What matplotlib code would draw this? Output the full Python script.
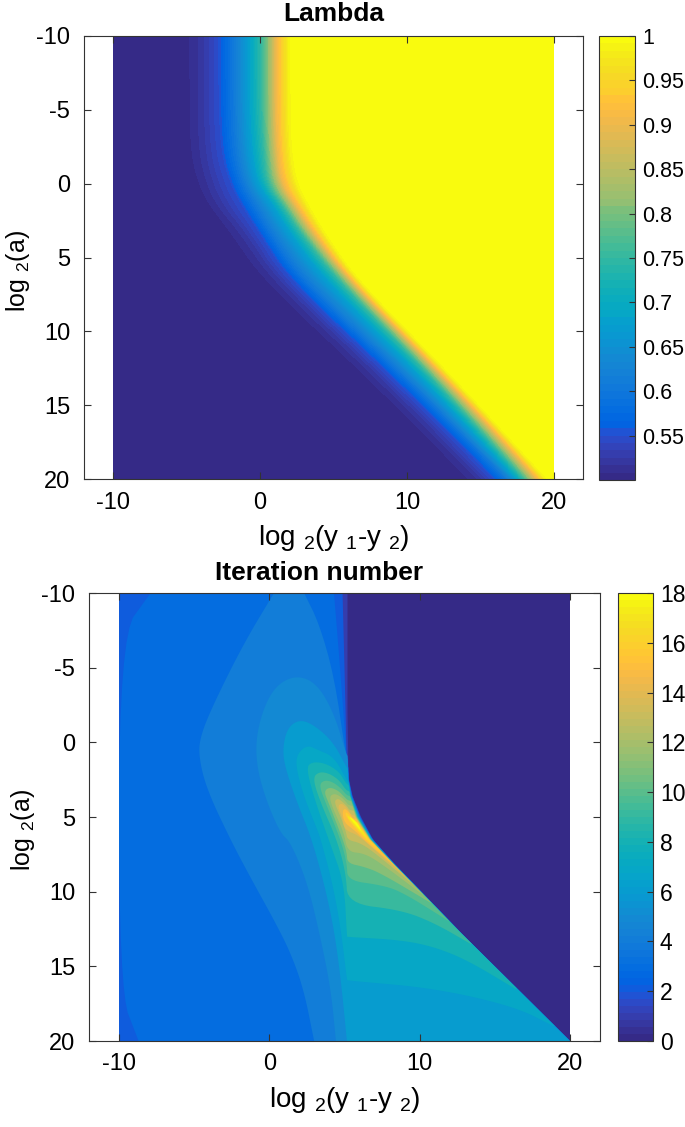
import matplotlib
matplotlib.use("Agg")
import matplotlib.pyplot as plt
from matplotlib.cm import ScalarMappable
from matplotlib.colors import ListedColormap, Normalize
import numpy as np

FIG_W, FIG_H = 685, 1127

plt.rcParams.update({
    "font.family": ["Liberation Sans", "DejaVu Sans"],
    "mathtext.fontset": "custom",
    "mathtext.rm": "Liberation Sans",
    "mathtext.default": "regular",
    "axes.unicode_minus": False,
    "font.size": 17,
    "axes.linewidth": 0.8,
    "axes.edgecolor": "#333333",
    "xtick.direction": "in",
    "ytick.direction": "in",
    "xtick.color": "#333333",
    "ytick.color": "#333333",
    "xtick.labelcolor": "black",
    "ytick.labelcolor": "black",
    "xtick.major.size": 5,
    "ytick.major.size": 5,
    "xtick.major.width": 0.8,
    "ytick.major.width": 0.8,
})

PARULA = [
    (0.2081, 0.1663, 0.5292), (0.2116, 0.1898, 0.5777), (0.2123, 0.2138, 0.6270), (0.2081, 0.2386, 0.6771),
    (0.1959, 0.2645, 0.7279), (0.1707, 0.2919, 0.7792), (0.1253, 0.3242, 0.8303), (0.0591, 0.3598, 0.8683),
    (0.0117, 0.3875, 0.8820), (0.0060, 0.4086, 0.8828), (0.0165, 0.4266, 0.8786), (0.0329, 0.4430, 0.8720),
    (0.0498, 0.4586, 0.8641), (0.0629, 0.4737, 0.8554), (0.0723, 0.4887, 0.8467), (0.0779, 0.5040, 0.8384),
    (0.0793, 0.5200, 0.8312), (0.0749, 0.5375, 0.8263), (0.0641, 0.5570, 0.8240), (0.0488, 0.5772, 0.8228),
    (0.0343, 0.5966, 0.8199), (0.0265, 0.6137, 0.8135), (0.0239, 0.6287, 0.8038), (0.0231, 0.6418, 0.7913),
    (0.0228, 0.6535, 0.7768), (0.0267, 0.6642, 0.7607), (0.0384, 0.6743, 0.7436), (0.0590, 0.6838, 0.7254),
    (0.0843, 0.6928, 0.7062), (0.1133, 0.7015, 0.6859), (0.1453, 0.7098, 0.6646), (0.1801, 0.7177, 0.6424),
    (0.2178, 0.7250, 0.6190), (0.2586, 0.7317, 0.5954), (0.3022, 0.7376, 0.5712), (0.3482, 0.7424, 0.5473),
    (0.3953, 0.7459, 0.5244), (0.4420, 0.7481, 0.5033), (0.4871, 0.7491, 0.4840), (0.5300, 0.7491, 0.4661),
    (0.5709, 0.7485, 0.4494), (0.6099, 0.7473, 0.4337), (0.6473, 0.7456, 0.4188), (0.6834, 0.7435, 0.4044),
    (0.7184, 0.7411, 0.3905), (0.7525, 0.7384, 0.3768), (0.7858, 0.7356, 0.3633), (0.8185, 0.7327, 0.3498),
    (0.8507, 0.7299, 0.3360), (0.8824, 0.7274, 0.3217), (0.9139, 0.7258, 0.3063), (0.9450, 0.7261, 0.2886),
    (0.9739, 0.7314, 0.2666), (0.9938, 0.7455, 0.2403), (0.9990, 0.7653, 0.2164), (0.9955, 0.7861, 0.1967),
    (0.9880, 0.8066, 0.1794), (0.9789, 0.8271, 0.1633), (0.9697, 0.8481, 0.1475), (0.9626, 0.8705, 0.1309),
    (0.9589, 0.8949, 0.1132), (0.9598, 0.9218, 0.0948), (0.9661, 0.9514, 0.0755), (0.9763, 0.9831, 0.0538),
]
parula = ListedColormap(PARULA)

x_ticks = [-10, 0, 10, 20]
y_ticks = [-10, -5, 0, 5, 10, 15, 20]
grid_span = [-10, 20]
lambda_ticks = [0.55, 0.6, 0.65, 0.7, 0.75, 0.8, 0.85, 0.9, 0.95, 1]
lambda_tick_labels = ["0.55", "0.6", "0.65", "0.7", "0.75", "0.8", "0.85", "0.9", "0.95", "1"]
iter_ticks = [0, 2, 4, 6, 8, 10, 12, 14, 16, 18]

# Lambda: where each lambda level crosses each row of log2(a)
lambda_rows = [-10, -5, -2, 0, 1.5, 3.2, 6.5, 13, 20]
lambda_values = [0.5, 0.505, 0.52, 0.55, 0.6, 0.68, 0.75, 0.83, 0.9, 0.99, 1.0]
cross_505 = [-5.0, -5.0, -4.9, -4.4, -3.6, -2.3, 0.0, 7.0, 14.0]
cross_520 = [-4.0, -4.0, -3.9, -3.4, -2.7, -1.2, 1.0, 8.0, 15.0]
cross_550 = [-2.8, -2.8, -2.6, -2.0, -1.2, -0.1, 2.0, 9.0, 16.0]
cross_600 = [-1.85, -1.85, -1.7, -1.2, -0.3, 0.65, 2.9, 9.85, 16.8]
cross_680 = [-0.7, -0.7, -0.5, -0.1, 1.0, 2.0, 4.5, 11.0, 17.5]
cross_750 = [0.1, 0.1, 0.3, 0.5, 1.6, 2.7, 5.3, 11.65, 18.0]
cross_830 = [0.7, 0.7, 0.8, 1.1, 2.1, 3.2, 5.8, 12.15, 18.5]
cross_900 = [1.1, 1.1, 1.2, 1.5, 2.5, 3.6, 6.1, 12.5, 18.9]
cross_990 = [2.0, 2.0, 2.1, 2.5, 3.3, 4.3, 6.6, 13.05, 19.5]

# Iteration number: right edge of the non-zero region, and the squeeze of bands along it
boundary_y = [-10, -2, 1.2, 2.5, 3.6, 5.0, 6.5, 8.1, 12.8, 20]
boundary_x = [5.2, 5.2, 5.25, 5.3, 5.54, 6.1, 6.9, 8.3, 12.8, 20]
boundary_width = [0.15, 0.15, 0.15, 0.2, 0.35, 0.5, 0.3, 0.15, 0.08, 0.03]

# Iteration contours, one (x, y) pair of lists per branch
left_1 = ([-10, -10], [-10, 20])
right_1 = ([5.2], [-10])
left_2 = ([-10, -10], [-10, 20])
right_2 = ([4.87, 5.05, 5.15], [-10, -3, 1.5])
left_3 = ([-7.9, -10, -10, -8.7], [-10, -7.07, 16.6, 20])
right_3 = ([4.3, 4.65, 4.98, 5.2], [-10, -5.7, -1.3, 1.9])
left_4 = ([0.31, -1.7, -3.7, -4.6, -4.7, -4.15, -2.45, -1.05, 0.31, 1.42, 2.3, 2.98],
          [-10, -6.63, -2.6, -0.4, 0.96, 3.2, 6.8, 9.43, 11.9, 14.1, 16.6, 20])
right_4 = ([2.31, 3.31, 4.32, 5.1], [-10, -7.97, -4.4, 0.96])
left_5 = ([1.87, 0.53, -0.36, -0.91, -0.8, -0.13, 0.75, 1.42, 2.54, 3.43, 4.1, 4.43],
          [-4.5, -3.9, -2.4, -0.2, 1.86, 4.1, 6.1, 6.7, 9.43, 13.2, 16.6, 20])
right_5 = ([1.87, 3.2, 4.32, 5.1], [-4.5, -3.9, -1.9, 0.74])
left_6 = ([2.1, 1.2, 0.87, 1.1, 1.87, 2.76, 3.64, 4.3, 4.76, 5.16],
          [-1.56, -1.0, 0.5, 1.86, 4.1, 6.3, 9.43, 12.5, 15.9, 20])
right_6 = ([2.1, 3.2, 4.3, 5.1], [-1.56, -1.0, 0.07, 1.6])
left_7 = ([2.54, 1.87, 1.76, 2.3, 3.2, 3.43, 4.2, 4.76, 5.16, 5.2, 10.98, 16.34, 18.9],
          [0.18, 0.74, 1.63, 3.64, 5.87, 6.54, 9.43, 12.5, 15.9, 15.95, 16.46, 17.7, 19.0])
right_7 = ([2.54, 3.2, 4.3, 5.15], [0.18, 0.5, 0.96, 2.53])
left_8 = ([2.87, 2.43, 3.1, 4.05, 4.98, 5.16, 5.2, 8.77, 10.98, 13.2, 16.35],
          [1.3, 1.7, 4.1, 6.8, 9.43, 13.0, 13.03, 13.24, 13.7, 14.6, 16.5])
right_8 = ([2.87, 3.76, 4.65, 5.1], [1.3, 1.41, 1.97, 2.75])
left_9 = ([3.31, 2.87, 3.43, 4.5, 5.1, 5.2, 8.77, 10.98, 13.4],
          [1.97, 2.4, 4.1, 6.54, 8.8, 10.8, 11.23, 12.1, 13.5])
right_9 = ([3.31, 3.98, 4.65, 5.1], [1.97, 2.08, 2.53, 3.2])
left_10 = ([3.65, 3.3, 3.76, 4.75, 5.16, 5.2, 7.4, 8.8, 11.98],
           [2.53, 2.86, 4.1, 6.54, 8.1, 9.25, 9.55, 10.0, 12.0])
right_10 = ([3.65, 4.2, 4.76, 5.14], [2.53, 2.64, 3.07, 3.53])
left_11 = ([3.98, 3.63, 3.96, 4.9, 5.15, 5.2, 6.3, 7.43, 10.82],
           [3.0, 3.3, 4.1, 6.54, 7.4, 8.1, 8.33, 8.77, 10.8])
right_11 = ([3.98, 4.54, 4.98, 5.2], [3.0, 3.2, 3.64, 3.87])
left_12 = ([4.32, 3.98, 4.25, 4.95, 5.2, 6.3, 7.43, 10.2], [3.42, 3.64, 4.5, 6.0, 7.33, 7.43, 8.1, 10.2])
right_12 = ([4.32, 4.76, 5.1, 5.25], [3.42, 3.64, 3.98, 4.2])
left_13 = ([4.55, 4.3, 4.75, 5.1, 5.2, 6.1, 7.2, 9.65], [3.75, 3.98, 5.0, 6.0, 6.54, 6.75, 7.55, 9.6])
right_13 = ([4.55, 4.87, 5.2, 5.32], [3.75, 3.98, 4.31, 4.53])
left_14 = ([4.76, 4.54, 4.85, 5.0, 5.88, 6.77, 9.05], [4.07, 4.3, 5.0, 5.87, 6.2, 7.0, 9.0])
right_14 = ([4.76, 5.1, 5.32, 5.48], [4.07, 4.31, 4.64, 4.87])
left_15 = ([5.0, 4.85, 5.0, 5.65, 6.3, 8.25], [4.4, 4.7, 5.4, 5.87, 6.54, 8.2])
right_15 = ([5.0, 5.32, 5.54], [4.4, 4.69, 5.09])
left_16 = ([5.1, 5.05, 5.25, 5.75, 6.45, 7.35], [4.64, 4.85, 5.2, 5.8, 6.55, 7.3])
right_16 = ([5.1, 5.43, 5.65], [4.64, 4.98, 5.32])
left_17 = ([5.2, 5.25, 5.6, 6.1, 6.6], [4.87, 5.1, 5.5, 6.05, 6.55])
right_17 = ([5.2, 5.5, 5.85, 6.2, 6.6], [4.87, 5.15, 5.45, 5.9, 6.55])
left_18 = ([5.32, 5.45, 5.8, 6.15], [4.97, 5.2, 5.6, 6.0])
right_18 = ([5.32, 5.6, 5.9, 6.15], [4.97, 5.15, 5.45, 6.0])

iter_left = [left_1, left_2, left_3, left_4, left_5, left_6, left_7, left_8, left_9,
             left_10, left_11, left_12, left_13, left_14, left_15, left_16, left_17, left_18]
iter_right = [right_1, right_2, right_3, right_4, right_5, right_6, right_7, right_8, right_9,
              right_10, right_11, right_12, right_13, right_14, right_15, right_16, right_17, right_18]


def axes_px(fig, left, top, right, bottom):
    return fig.add_axes([left / FIG_W, 1 - bottom / FIG_H, (right - left) / FIG_W, (bottom - top) / FIG_H])


def smooth(x, y, rounds=3):
    # corner cutting, the end points stay where they are
    pts = np.column_stack([x, y]).astype(float)
    if len(pts) < 3:
        return pts
    for _ in range(rounds):
        q = 0.75 * pts[:-1] + 0.25 * pts[1:]
        r = 0.25 * pts[:-1] + 0.75 * pts[1:]
        mid = np.empty((2 * len(q), 2))
        mid[0::2] = q
        mid[1::2] = r
        pts = np.vstack([pts[0], mid, pts[-1]])
    return pts


def level_outline(level, left, right):
    end_y = left[1][-1]
    rx, ry = list(right[0]), list(right[1])
    if end_y > ry[-1]:
        ys = np.linspace(ry[-1], end_y, 120)[1:]
        share = (level - 1) / 17
        xs = np.interp(ys, boundary_y, boundary_x) - share * np.interp(ys, boundary_y, boundary_width)
        rx += list(xs)
        ry += list(ys)
    if left[0][0] == rx[0] and left[1][0] == ry[0]:
        # closed dome: smooth over the top as well
        x = list(left[0][::-1]) + rx[1:]
        y = list(left[1][::-1]) + ry[1:]
        return smooth(x, y)
    return np.vstack([smooth(*left)[::-1], smooth(rx, ry, rounds=2)])


def style_axes(ax, title, title_x, title_pad):
    ax.set_xlim(-12, 22)
    ax.set_ylim(20, -10)
    ax.set_xticks(x_ticks)
    ax.set_yticks(y_ticks)
    ax.tick_params(top=True, right=True)
    ax.tick_params(axis="x", pad=9)
    ax.tick_params(axis="y", pad=10)
    ax.set_title(title, fontweight="bold", fontsize=19, pad=title_pad, x=title_x)
    ax.set_xlabel(r"log $_{2}$(y $_{1}$-y $_{2}$)", fontsize=20, labelpad=7)
    ax.set_ylabel(r"log $_{2}$(a)", fontsize=18, labelpad=3, y=0.47)


def style_colorbar(cb, size):
    cb.ax.tick_params(direction="in", length=4, pad=5, width=0.8, color="#333333", labelsize=size)
    cb.outline.set_edgecolor("#333333")
    cb.outline.set_linewidth(0.8)


def plot_lambda(fig):
    ax = axes_px(fig, 84, 36, 583, 479)
    crossings = [cross_505, cross_520, cross_550, cross_600, cross_680,
                 cross_750, cross_830, cross_900, cross_990]
    curves = [smooth(c, lambda_rows) for c in crossings]
    xs = np.linspace(grid_span[0], grid_span[1], 900)
    ys = np.linspace(grid_span[0], grid_span[1], 500)
    field = np.zeros((len(ys), len(xs)))
    for i, y in enumerate(ys):
        row = [np.interp(y, c[:, 1], c[:, 0]) for c in curves]
        stops = [grid_span[0] - 1] + row + [row[-1] + 0.6]
        field[i] = np.interp(xs, stops, lambda_values)
    cf = ax.contourf(xs, ys, field, levels=np.linspace(0.5, 1, 61), cmap=parula, vmin=0.5, vmax=1)
    style_axes(ax, "Lambda", 0.5, 11)

    cax = axes_px(fig, 599, 36, 635, 480)
    cb = fig.colorbar(cf, cax=cax)
    cb.set_ticks(lambda_ticks, labels=lambda_tick_labels)
    style_colorbar(cb, 15.5)


def plot_iterations(fig):
    ax = axes_px(fig, 89, 593, 600, 1041)
    ax.fill_between(grid_span, grid_span[0], grid_span[1], color=parula(0.0), linewidth=0)
    for level, (left, right) in enumerate(zip(iter_left, iter_right), start=1):
        outline = level_outline(level, left, right)
        ax.fill(outline[:, 0], outline[:, 1], color=parula(level / 18), linewidth=0)
    style_axes(ax, "Iteration number", 0.45, 9.5)

    cax = axes_px(fig, 618, 593, 653, 1041)
    cb = fig.colorbar(ScalarMappable(norm=Normalize(0, 18), cmap=parula), cax=cax)
    cb.set_ticks(iter_ticks)
    style_colorbar(cb, 16.5)


fig = plt.figure(figsize=(FIG_W / 100, FIG_H / 100), dpi=100)
plot_lambda(fig)
plot_iterations(fig)
fig.savefig("out.png", dpi=100)
